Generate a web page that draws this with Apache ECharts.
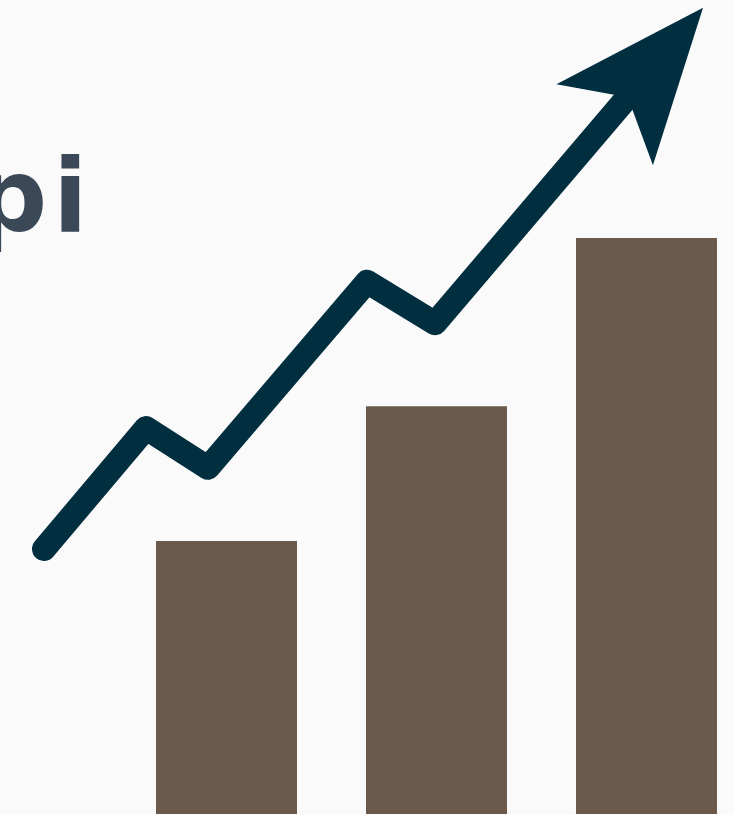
<!DOCTYPE html>
<html>
<head>
<meta charset="utf-8">
<script src="https://cdn.jsdelivr.net/npm/echarts@6/dist/echarts.min.js"></script>
<style>
html,body{margin:0;padding:0;background:#fafafa;}
#chart{width:734px;height:815px;}
</style>
</head>
<body>
<div id="chart"></div>
<script>
// Data
var categories = [0, 1, 2];            // category positions (Q1, Q2, Q3)
var barValues = [47.4, 70.8, 100];
// Trend line: x in category-index units, y in same units as bars
var trendX = [-0.869, -0.383, -0.088, 0.669, 0.993, 2.035];
var trendY = [46.0, 67.0, 60.1, 92.4, 85.2, 129.8];
var titleParts = ['p', 'i'];

var chart = echarts.init(document.getElementById('chart'), null, {renderer: 'canvas'});

var lineData = trendX.map(function (x, i) {
  var item = {value: [x, trendY[i]]};
  if (i === trendX.length - 1) {
    item.symbol = 'path://M63,0 L126,153 L63,117 L0,153 Z';
    item.symbolSize = [126, 153];
    item.symbolRotate = -40;
  }
  return item;
});

var barData = categories.map(function (c, i) { return [c, barValues[i]]; });

var titleFont = 'bold 101px "DejaVu Sans", sans-serif';

var option = {
  backgroundColor: '#fafafa',
  animation: false,
  grid: {left: 0, right: 0, top: 0, bottom: 1, containLabel: false},
  xAxis: {type: 'value', min: -1.0786, max: 2.4167, show: false},
  yAxis: {type: 'value', min: 0, max: 141.3, show: false},
  graphic: [{
    type: 'text',
    x: -25,
    y: 205,
    silent: true,
    style: {
      text: '{a|' + titleParts[0] + '}{b|' + titleParts[1] + '}',
      font: titleFont,
      fill: '#3b4858',
      align: 'left',
      verticalAlign: 'middle',
      rich: {
        a: {font: titleFont, fill: '#3b4858', width: 78},
        b: {font: titleFont, fill: '#3b4858'}
      }
    }
  }],
  series: [
    {
      type: 'bar',
      data: barData,
      barWidth: 141,
      itemStyle: {color: '#6b5a4b'},
      silent: true
    },
    {
      type: 'line',
      data: lineData,
      symbol: 'none',
      showSymbol: true,
      showAllSymbol: true,
      clip: false,
      silent: true,
      lineStyle: {color: '#012f40', width: 24, cap: 'round', join: 'round'},
      itemStyle: {color: '#012f40', borderWidth: 0},
      z: 3
    }
  ]
};
chart.setOption(option);
</script>
</body>
</html>
